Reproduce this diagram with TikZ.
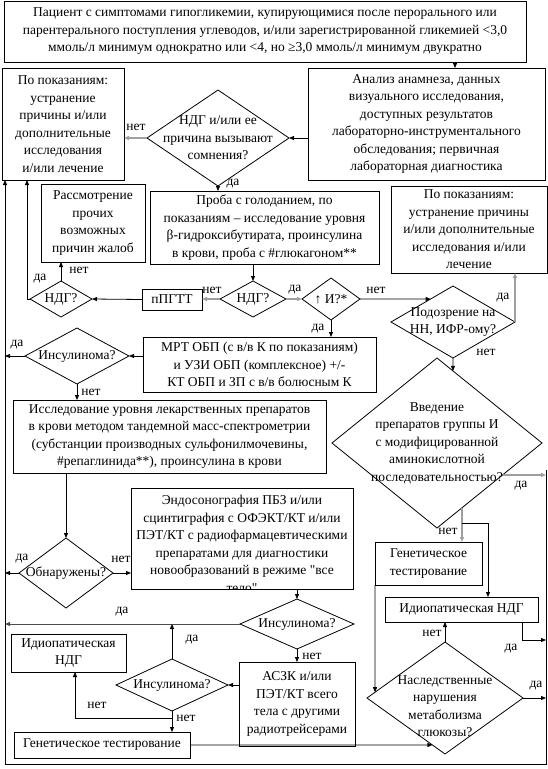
\documentclass[tikz,border=0pt]{standalone}
\usepackage{fontspec}
\setmainfont{Liberation Serif}[Ligatures=TeXOff]
\usetikzlibrary{arrows.meta,shapes.geometric,calc}
\newcommand\mfs{\fontsize{13.5}{17.5}\selectfont}
\newcommand\mkbox[6]{\node[box,minimum width={#4-#2},minimum height={#5-#3}] (#1) at ({(#2+#4)/2},{(#3+#5)/2}) {#6};}
\newcommand\mkdia[6]{\node[dia,minimum width={2*#4},minimum height={2*#5}] (#1) at (#2,#3) {};
  \node[txt] (#1t) at (#2,#3) {#6};}
\tikzset{
  box/.style={draw, rectangle, inner sep=0pt, outer sep=0pt, line width=0.8pt, align=center, font=\mfs},
  dia/.style={draw, diamond, inner sep=0pt, outer sep=0pt, line width=0.8pt},
  txt/.style={align=center, inner sep=0pt, font=\mfs},
  lbl/.style={inner sep=0pt, font=\mfs},
  arr/.style={-{Triangle[length=5pt,width=4pt]}, line width=0.8pt},
  garr/.style={arr, draw=gray!75, line width=1.4pt},
  darr/.style={arr, draw=black!70, line width=1pt}
}
\begin{document}
\begin{tikzpicture}[x=1pt,y=-1pt]
\useasboundingbox (0,0) rectangle (548,769);
% boxes and decisions
\mkbox{top}{4}{1}{526}{62}{Пациент с симптомами гипогликемии, купирующимися после перорального или\\ парентерального поступления углеводов, и/или зарегистрированной гликемией <3,0\\ ммоль/л минимум однократно или <4, но ≥3,0 ммоль/л минимум двукратно}
\mkbox{anal}{308}{68}{545}{180}{Анализ анамнеза, данных\\ визуального исследования,\\ доступных результатов\\ лабораторно-инструментального\\ обследования; первичная\\ лабораторная диагностика}
\mkbox{left1}{2}{68}{124}{180}{По показаниям:\\ устранение\\ причины и/или\\ дополнительные\\ исследования\\ и/или лечение}
\mkdia{d1}{218}{138}{71}{48}{НДГ и/или ее\\ причина вызывают\\ сомнения?}
\mkbox{rass}{41}{184}{145}{262}{Рассмотрение\\ прочих\\ возможных\\ причин жалоб}
\mkbox{proba}{150}{191}{379}{264}{Проба с голоданием, по\\ показаниям – исследование уровня\\ β-гидроксибутирата, проинсулина\\ в крови, проба с \#глюкагоном**}
\mkbox{right1}{391}{186}{547}{273}{По показаниям:\\ устранение причины\\ и/или дополнительные\\ исследования и/или\\ лечение}
\mkdia{ndg2}{61}{299}{31}{18}{НДГ?}
\mkbox{pgtt}{142}{289}{202}{310}{пПГТТ}
\mkdia{ndg3}{253}{299}{33}{18}{НДГ?}
\mkdia{ui}{331}{299}{29}{21}{↑ И?*}
\mkdia{podoz}{453}{322}{62}{36}{Подозрение на\\ НН, ИФР-ому?}
\mkdia{ins1}{77}{356}{52}{28}{Инсулинома?}
\mkbox{mrt}{143}{337}{376}{392}{МРТ ОБП (с в/в К по показаниям)\\ и УЗИ ОБП (комплексное) +/-\\ КТ ОБП и ЗП с в/в болюсным К}
\mkbox{issl}{13}{400}{326}{473}{Исследование уровня лекарственных препаратов\\ в крови методом тандемной масс-спектрометрии\\ (субстанции производных сульфонилмочевины,\\ \#репаглинида**), проинсулина в крови}
\mkdia{vved}{437}{443}{105}{85}{Введение\\ препаратов группы И\\ с модифицированной\\ аминокислотной\\ последовательностью?}
\begin{scope}
\clip (131,488) rectangle (353,589);
\node[txt] (endot) at (242,544) {Эндосонография ПБЗ и/или\\ сцинтиграфия с ОФЭКТ/КТ и/или\\ ПЭТ/КТ с радиофармацевтическими\\ препаратами для диагностики\\ новообразований в режиме "все\\ тело"};
\end{scope}
\mkbox{endo}{131}{488}{353}{589}{}
\mkdia{obn}{66}{573}{47}{35}{Обнаружены?}
\mkbox{gen1}{375}{542}{482}{585}{Генетическое\\ тестирование}
\mkbox{idio2}{385}{597}{538}{622}{Идиопатическая НДГ}
\mkdia{ins2}{297}{624}{57}{25}{Инсулинома?}
\mkbox{idio1}{11}{634}{126}{672}{Идиопатическая\\ НДГ}
\mkbox{asz}{239}{662}{355}{746}{АСЗК и/или\\ ПЭТ/КТ всего\\ тела с другими\\ радиотрейсерами}
\mkdia{ins3}{172}{685}{56}{26}{Инсулинома?}
\mkbox{gen2}{14}{732}{190}{758}{Генетическое тестирование}
\node[dia,minimum width=156,minimum height=112] (nasl) at (445,698) {};
\node[txt] (naslt) at (445,706) {Наследственные\\ нарушения\\ метаболизма\\ глюкозы?};
% helper coordinates
\coordinate (xa) at (455,0);
\coordinate (xb) at (27,0);
\coordinate (xl) at (5,0);
\coordinate (xr) at (546,0);
\coordinate (xi) at (75,0);
\coordinate (xc) at (488,0);
\coordinate (xd) at (522,0);
\coordinate (yd) at (0,640);
\coordinate (rt) at (546,470);
\coordinate (rb) at (546,764);
\coordinate (lb) at (5,764);
\coordinate (br) at (462,523);
\coordinate (j1) at ($(ins3.south)+(0,7)$);
\coordinate (pz1) at ($(podoz.west)!0.639!(podoz.north)$);
\coordinate (vt) at ($(vved.north)!0.152!(vved.east)$);
\coordinate (vr) at ($(vved.east)!0.376!(vved.south)$);
\coordinate (vb) at ($(vved.east)!0.762!(vved.south)$);
\coordinate (ns1) at ($(nasl.west)!0.839!(nasl.south)$);
\coordinate (ns2) at ($(nasl.west)!0.103!(nasl.north)$);
% connectors
\draw[arr] (top.south -| xa) -- (anal.north -| xa);
\draw[arr] (anal.west |- d1.east) -- (d1.east);
\draw[garr] (d1.west) -- (left1.east |- d1.west);
\node[lbl] (l1) at (136,127) {нет};
\draw[arr] (d1.south) -- (d1.south |- proba.north);
\node[lbl] (l2) at (233,184) {да};
\draw[arr] (ndg3.north |- proba.south) -- (ndg3.north);
\draw[garr] (ndg3.west) -- (pgtt.east |- ndg3.west);
\node[lbl] (l3) at (212,290) {нет};
\draw[garr] (ndg3.east) -- (ui.west);
\node[lbl] (l4) at (295,290) {да};
\draw[arr] (pgtt.west) -- (ndg2.east);
\draw[arr] (ndg2.north) -- (ndg2.north |- rass.south);
\node[lbl] (l5) at (79,270) {нет};
\draw[arr] (ndg2.west) -| (left1.south -| xb);
\node[lbl] (l6) at (40,279) {да};
\draw[arr] (ui.south) -- (ui.south |- mrt.north);
\node[lbl] (l7) at (318,329) {да};
\draw[arr] (ui.east) -- (pz1);
\node[lbl] (l8) at (376,290) {нет};
\draw[garr] (podoz.east) -- (podoz.east |- right1.south);
\node[lbl] (l9) at (503,298) {да};
\draw[arr] (podoz.south) -- (vt);
\node[lbl] (l10) at (486,352) {нет};
\draw[arr] (mrt.west |- ins1.east) -- (ins1.east);
\draw[arr] (ins1.west) -- (ins1.west -| xl);
\node[lbl] (l11) at (17,345) {да};
\draw[arr] (ins1.south) -- (ins1.south |- issl.north);
\node[lbl] (l12) at (91,392) {нет};
\draw[arr] (obn.north |- issl.south) -- (obn.north);
\draw[arr] (obn.west) -- (obn.west -| xl);
\node[lbl] (l13) at (22,559) {да};
\draw[arr] (obn.east) -- (endo.west |- obn.east);
\node[lbl] (l14) at (121,559) {нет};
\draw[arr] (ins2.north |- endo.south) -- (ins2.north);
\draw[darr] (ins2.west) -- (ins2.west -| xl);
\node[lbl] (l15) at (122,612) {да};
\draw[arr] (ins2.south) -- (ins2.south |- asz.north);
\node[lbl] (l16) at (312,656) {нет};
\draw[arr] (asz.west |- ins3.east) -- (ins3.east);
\draw[arr] (ins3.north) -- (ins3.north |- ins2.west);
\node[lbl] (l17) at (192,640) {да};
\draw[arr] (ins3.south) -- (ins3.south |- gen2.north);
\draw[arr] (j1) -| (idio1.south -| xi);
\node[lbl] (l18) at (97,705) {нет};
\node[lbl] (l19) at (186,718) {нет};
\draw[arr] (gen2.east) -- (ns1);
\draw[garr] (vr) -- (vr -| xr);
\node[lbl] (l20) at (521,486) {да};
\draw[garr] (vb) -- (vb |- gen1.north);
\node[lbl] (l21) at (448,531) {нет};
\draw[arr] (br) -| (idio2.north -| xc);
\draw[arr] (gen1.south west) -- (ns2);
\draw[arr] (nasl.north) -- (nasl.north |- idio2.south);
\node[lbl] (l22) at (432,633) {нет};
\draw[arr] (idio2.south -| xd) |- (yd -| xr);
\node[lbl] (l23) at (511,649) {да};
\draw[arr] (nasl.east) -- (nasl.east -| xr);
\node[lbl] (l24) at (536,686) {да};
\draw[arr] (rt) -- (rb) -- (lb) -- (left1.south -| xl);
\end{tikzpicture}
\end{document}
